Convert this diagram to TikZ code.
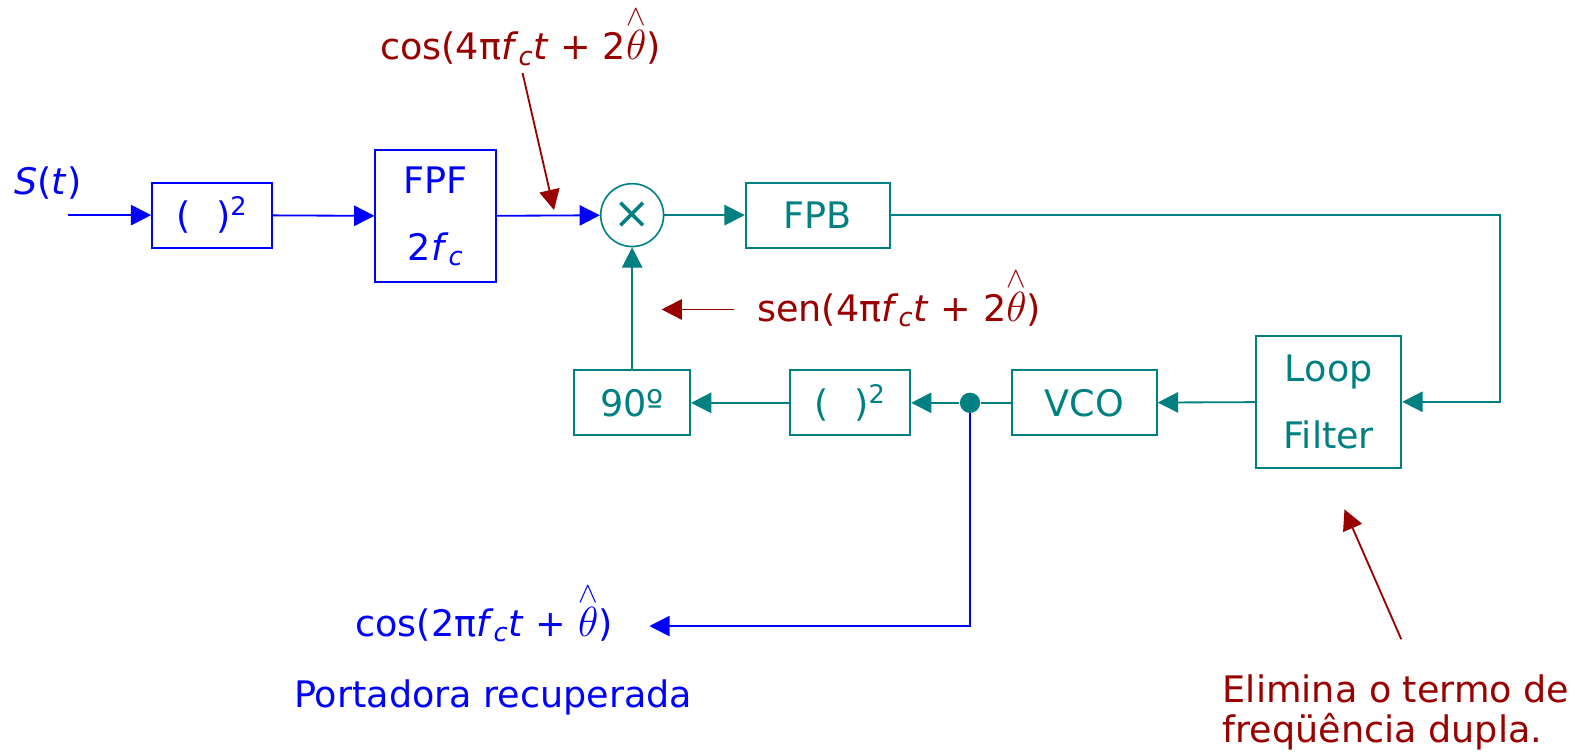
\documentclass[tikz,border=0pt]{standalone}
\usepackage{amsmath}
\usepackage{fontspec}
\setmainfont{DejaVu Sans}
\usetikzlibrary{arrows.meta}
\definecolor{sigblue}{RGB}{0,0,255}
\definecolor{loopteal}{RGB}{0,128,128}
\definecolor{notered}{RGB}{153,0,0}
% estimated phase with a tall hat, as on the slide
\newcommand{\thetaest}{{\fontsize{20}{22}\selectfont
  \(\overset{\raisebox{-4pt}{\(\scriptstyle\wedge\)}}{\theta}\)}}
\begin{document}
\begin{tikzpicture}[
  x=0.5pt, y=-0.5pt,
  every node/.style={font=\fontsize{18}{22}\selectfont},
  block/.style={draw, line width=1pt, inner sep=0pt, minimum height=32pt},
  tallblock/.style={block, minimum height=65pt, align=center,
    font=\fontsize{18}{33}\selectfont},
  formula/.style={inner sep=1pt, anchor=base},
  wire/.style={line width=0.9pt},
  sig/.style={wire, sigblue, -{Triangle[length=10pt,width=10pt]}},
  pll/.style={wire, loopteal, -{Triangle[length=10pt,width=10pt]}},
  note/.style={wire, notered, -{Triangle[length=10pt,width=10pt]}}
]
  % keep the page the size of the original slide
  \useasboundingbox (0,0) rectangle (1568,744);

  % Upper path: squaring and band-pass filter at 2fc
  \node[sigblue] (sin) at (47,180) {\textit{S}(\textit{t})};
  \coordinate (in) at (67,212);
  \node[block, sigblue, minimum width=59pt] (sqa) at (209,212) {(\hspace{0.7em})\textsuperscript{2}};
  \node[tallblock, sigblue, minimum width=59.5pt] (fpf) at (429.5,213)
    {FPF\\2\textit{f}\textsubscript{\textit{c}}};

  % Multiplier and low-pass filter
  \node[draw, circle, loopteal, line width=0.8pt, minimum size=31pt, inner sep=0pt,
    font=\fontsize{22}{22}\selectfont] (mult) at (623,212) {×};
  \node[block, loopteal, minimum width=71pt] (fpb) at (806,212) {FPB};

  % Lower loop
  \node[tallblock, loopteal, minimum width=71.5pt] (loop) at (1309.5,396) {Loop\\Filter};
  \node[block, loopteal, minimum width=71.5pt] (vco) at (1068.5,397) {VCO};
  \node[circle, fill=loopteal, minimum size=10pt, inner sep=0pt] (tap) at (956,397) {};
  \node[block, loopteal, minimum width=59pt] (sqb) at (838,397) {(\hspace{0.7em})\textsuperscript{2}};
  \node[block, loopteal, minimum width=57pt] (shift) at (623,397) {90º};
  \coordinate (corner) at (1478,212);

  \draw[sig] (in) -- (sqa);
  \draw[sig] (sqa) -- (fpf);
  \draw[sig] (fpf) -- (mult);
  \draw[pll] (mult) -- (fpb);
  \draw[pll] (fpb) -- (corner) |- (loop);
  \draw[pll] (loop) -- (vco);
  \draw[wire, loopteal] (vco) -- (tap);
  \draw[pll] (tap) -- (sqb);
  \draw[pll] (sqb) -- (shift);
  \draw[pll] (shift) -- (mult);

  % Recovered carrier output
  \node[formula, sigblue] (carrier) at (477,627)
    {cos(2π\textit{f}\textsubscript{\textit{c}}\textit{t} + \thetaest)};
  \node[sigblue] (label) at (486,687) {Portadora recuperada};
  \coordinate (out) at (640,617);
  \draw[sig, line width=0.8pt] (tap) |- (out);

  % Annotations
  \node[formula, notered] (cosnote) at (513,59)
    {cos(4π\textit{f}\textsubscript{\textit{c}}\textit{t} + 2\thetaest)};
  \coordinate (costail) at (515,72);
  \coordinate (coshead) at (546,207);
  \draw[note] (costail) -- (coshead);

  \node[formula, notered] (sennote) at (886,317)
    {sen(4π\textit{f}\textsubscript{\textit{c}}\textit{t} + 2\thetaest)};
  \coordinate (sentail) at (723,305);
  \coordinate (senhead) at (652,305);
  \draw[note] (sentail) -- (senhead);

  \node[notered, anchor=west, align=left, font=\fontsize{18}{20}\selectfont] (elim)
    at (1198,702) {Elimina o termo de\\freqüência dupla.};
  \coordinate (elimtail) at (1381,630);
  \coordinate (elimhead) at (1325,502);
  \draw[note] (elimtail) -- (elimhead);
\end{tikzpicture}
\end{document}
